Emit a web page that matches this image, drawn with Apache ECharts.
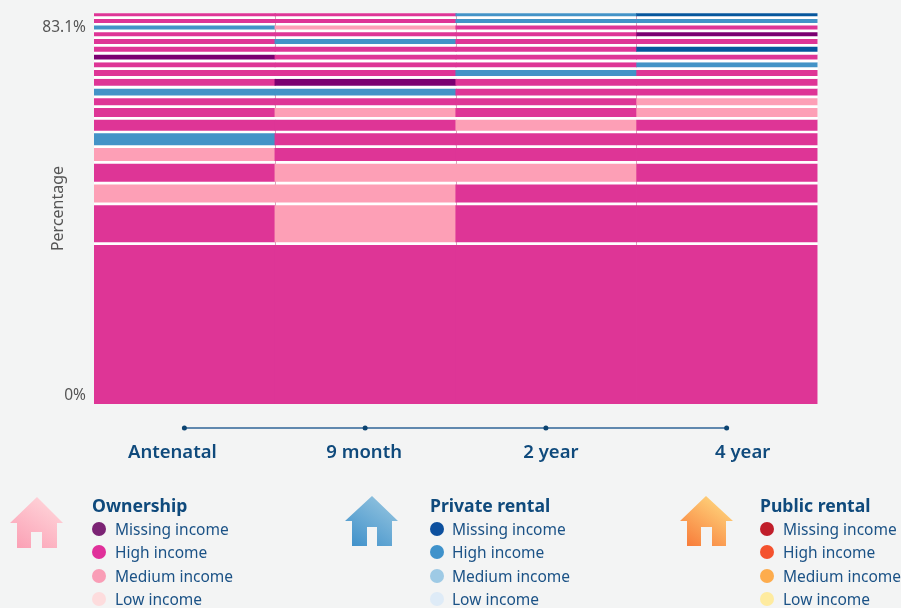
<!DOCTYPE html>
<html><head><meta charset="utf-8">
<style>html,body{margin:0;padding:0;background:#f3f4f4}#c{width:901px;height:608px}</style>
<script src="https://cdn.jsdelivr.net/npm/echarts@6/dist/echarts.min.js"></script>
</head><body><div id="c"></div>
<script>
// Wave labels
const waves = ['Antenatal', '9 month', '2 year', '4 year'];
// Band heights in percentage points, bottom of the stack first
const bandValues = [33.79, 7.86, 3.83, 3.83, 2.76, 2.55, 2.34, 1.91, 1.49, 1.49, 1.49, 1.28, 1.06, 1.06, 1.06, 1.06, 0.85, 0.85, 0.85, 0.64];
const gapValue = 0.58;
// Tenure/income class of every band in each wave, bottom of the stack first
const antenatal = ['OH','OH','OM','OH','OM','PH','OH','OH','OH','PH','OH','OH','OH','OO','OH','OH','OH','PH','OH','OH'];
const nineMonth = ['OH','OM','OM','OM','OH','OH','OH','OM','OH','PH','OO','OH','OH','OH','OH','PH','OH','OM','OH','OH'];
const twoYear   = ['OH','OH','OH','OM','OH','OH','OM','OH','OH','OH','OH','PH','OH','OH','OH','OH','OH','OH','PH','PH'];
const fourYear  = ['OH','OH','OH','OH','OH','OH','OH','OM','OM','OH','OH','OH','PH','OH','PN','OH','OO','OH','PH','PN'];
const waveClasses = [antenatal, nineMonth, twoYear, fourYear];
const bandColors = {OH:'#de3596', OM:'#fd9fb6', OO:'#7b0071', PH:'#4393c7', PN:'#06569c'};
// Gaps (bottom first, gap i sits above band i) that show the small column tick
const tickGaps = [0,1,2,3,4,5,7,8,14,15,16,17,18];
const yTicks = [0, 83.1];
const labelShift = [-12, -1, 5, 16];
const legendIncome = ['Missing income','High income','Medium income','Low income'];
const legendGroups = [
  {title:'Ownership', colors:['#7b2374','#e0309a','#f99db6','#fddcdd'], tx:92, cx:99, lx:115,
   house:[37,497,10,63,17,57,31,42,523,532,548], grad:['#ffd8dc','#fba2b6']},
  {title:'Private rental', colors:['#0d509e','#3f92cb','#9ecae5','#deebf7'], tx:430, cx:437, lx:452,
   house:[372,496,345,398,352,392,367,377,521,527,546], grad:['#97c6e0','#4393cb']},
  {title:'Public rental', colors:['#c01e2a','#f4522e','#fdac4d','#feeb9f'], tx:760, cx:767, lx:783,
   house:[706,496,680,733,687,726,701,712,521,527,546], grad:['#ffdc82','#f87f3c']}
];
const rowY = [531, 554, 578, 601];
const font = '"Noto Sans", "Open Sans", sans-serif';
const navy = '#0f4a7c';

const series = [];
bandValues.forEach((v, i) => {
  series.push({type:'bar', stack:'s', name:'band'+i, barWidth:181.5, silent:true, z:3,
    data: waveClasses.map(w => ({value:v, itemStyle:{color:bandColors[w[i]]}}))});
  if (i < bandValues.length-1) {
    series.push({type:'bar', stack:'s', name:'gap'+i, barWidth:181.5, silent:true, z:3,
      itemStyle:{color: tickGaps.includes(i) ? 'rgba(0,0,0,0)' : '#ffffff'},
      data: waves.map(() => gapValue)});
  }
});
series.push({type:'line', xAxisIndex:1, yAxisIndex:1, silent:true, symbol:'circle', symbolSize:5,
  lineStyle:{color:'#6088ae', width:2}, itemStyle:{color:'#0c4471'},
  label:{show:true, position:'bottom', distance:13, formatter:'{b}', color:navy, fontFamily:font, fontWeight:600, fontSize:18.5},
  data: waves.map((w,i) => ({value:0, label:{offset:[labelShift[i],0]}}))});

const graphic = [];
legendGroups.forEach(g => {
  const [ax,ay,el,er,bl,br,dl,dr,ey,dt,bt] = g.house;
  graphic.push({type:'polygon', silent:true,
    shape:{points:[[ax,ay],[er,ey],[br,ey],[br,bt],[dr,bt],[dr,dt],[dl,dt],[dl,bt],[bl,bt],[bl,ey],[el,ey]]},
    style:{fill:{type:'linear',x:0.85,y:0,x2:0.2,y2:1,colorStops:[{offset:0,color:g.grad[0]},{offset:1,color:g.grad[1]}]}}});
  graphic.push({type:'text', silent:true, style:{text:g.title, x:g.tx, y:507, verticalAlign:'middle', fill:navy,
    font:'700 17.6px '+font}});
  legendIncome.forEach((t,i) => {
    graphic.push({type:'circle', silent:true, shape:{cx:g.cx, cy:rowY[i]-2, r:7}, style:{fill:g.colors[i]}});
    graphic.push({type:'text', silent:true, style:{text:t, x:g.lx, y:rowY[i], verticalAlign:'middle', fill:'#1b5286',
      font:'400 15.5px '+font}});
  });
});

const chart = echarts.init(document.getElementById('c'), null, {renderer:'canvas'});
chart.setOption({
  animation:false,
  backgroundColor:'#f3f4f4',
  grid:[
    {left:94, width:723.5, top:13, height:391, show:true, backgroundColor:'#ffffff', borderWidth:0},
    {left:94, width:723, top:427, height:2}
  ],
  xAxis:[
    {type:'category', gridIndex:0, data:waves, axisLine:{show:false}, axisTick:{show:false}, axisLabel:{show:false},
      splitLine:{show:true, showMinLine:false, showMaxLine:false, lineStyle:{color:'#d8a4bc', width:1}}},
    {type:'category', gridIndex:1, data:waves, axisLine:{show:false}, axisTick:{show:false}, axisLabel:{show:false}, splitLine:{show:false}}
  ],
  yAxis:[
    {type:'value', gridIndex:0, min:0, max:83.1, name:'Percentage', nameLocation:'middle', nameGap:28, nameMoveOverlap:false,
      nameTextStyle:{color:'#555', fontFamily:font, fontSize:16},
      axisLine:{show:false}, axisTick:{show:false}, splitLine:{show:false},
      axisLabel:{customValues:yTicks, formatter:v=> v===0 ? '{lo|'+v+'%}' : '{hi|'+v+'%}', margin:8,
        verticalAlignMinLabel:'bottom', verticalAlignMaxLabel:'top',
        rich:{lo:{color:'#555', fontFamily:font, fontSize:15.5, lineHeight:16},
              hi:{color:'#555', fontFamily:font, fontSize:15.5, lineHeight:30}}}},
    {type:'value', gridIndex:1, min:-1, max:1, show:false}
  ],
  series, graphic
});
</script></body></html>
